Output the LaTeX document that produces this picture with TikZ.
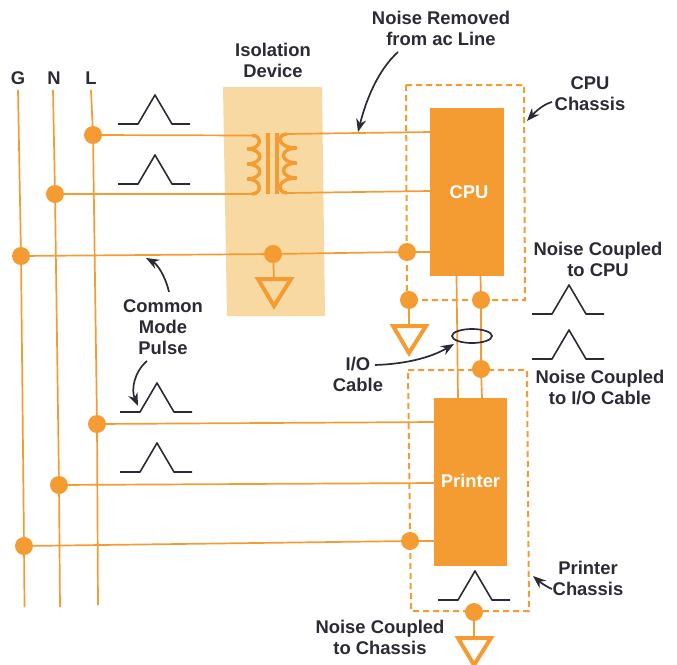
\documentclass[tikz,border=0pt]{standalone}
\usepackage{fontspec}
\setmainfont{Liberation Sans}
\usetikzlibrary{arrows.meta}
\definecolor{org}{HTML}{F49B32}
\definecolor{isoc}{HTML}{F9D9A2}
\definecolor{ink}{HTML}{2B2B35}
\tikzset{
  wire/.style={draw=org,line width=1.7pt},
  dot/.style={circle,fill=org,minimum size=18pt,inner sep=0pt},
  unit/.style={fill=org},
  chassis/.style={draw=org,line width=2pt,dash pattern=on 6pt off 4pt},
  gnd/.style={draw=org,line width=4pt,line join=miter},
  coil/.style={draw=org,line width=3.4pt},
  pulseline/.style={draw=ink,line width=1.6pt,line join=round},
  lbl/.style={text=ink,align=center,font=\fontsize{18.4}{21}\selectfont\bfseries,inner sep=0pt},
  callout/.style={draw=ink,line width=1.7pt,-{Stealth[length=13pt,width=10pt]}},
  pulse/.pic={\draw[pulseline] (0,0) -- (20,0) -- (37,-29) -- (54,0) -- (72,0);}
}
\begin{document}
\begin{tikzpicture}[x=1pt,y=-1pt]
\useasboundingbox (0,0) rectangle (677,664);
\clip (0,0) rectangle (677,664);
% isolation device
\fill[isoc] (223,87) -- (322,87) -- (325,316) -- (227,316) -- cycle;
% chassis
\draw[chassis] (406,85) -- (524,85) -- (525,300) -- (407,300) -- cycle;
\draw[chassis] (408,370) -- (527,370) -- (529,611) -- (411,611) -- cycle;
% units
\node[unit,minimum width=74pt,minimum height=168pt,inner sep=0pt] (cpu) at (467,192) {};
\node[unit,minimum width=73pt,minimum height=168pt,inner sep=0pt] (prn) at (470.5,482) {};
\node[lbl,text=white] at (469,192) {CPU};
\node[lbl,text=white] at (470.5,481) {Printer};
% dots
\node[dot] (l1) at (93,135) {};
\node[dot] (n1) at (55,194) {};
\node[dot] (g1) at (21,256) {};
\node[dot] (gi) at (273,254) {};
\node[dot] (gc) at (407,252) {};
\node[dot] (c1) at (409,300) {};
\node[dot] (c2) at (481,300) {};
\node[dot] (c3) at (481,369) {};
\node[dot] (l2) at (97,424) {};
\node[dot] (n2) at (59,485) {};
\node[dot] (g2) at (24,546) {};
\node[dot] (gp) at (410,541) {};
\node[dot] (c4) at (474,612) {};
% rails
\coordinate (gt) at (18,90); \coordinate (gb) at (24.5,607);
\coordinate (nt) at (53,90); \coordinate (nb) at (60,607);
\coordinate (lt) at (91,90); \coordinate (lb) at (98,605);
\draw[wire] (gt) -- (g1) -- (g2) -- (gb);
\draw[wire] (nt) -- (n1) -- (n2) -- (nb);
\draw[wire] (lt) -- (l1) -- (l2) -- (lb);
% transformer
\coordinate (ta) at (252,135.5); \coordinate (tb) at (252,194);
\coordinate (tc) at (287,134); \coordinate (td) at (287,193);
\coordinate (ca) at (430,132); \coordinate (cb) at (430,191);
\draw[wire] (l1) -- (ta);
\draw[wire] (n1) -- (tb);
\draw[wire] (tc) -- (ca);
\draw[wire] (td) -- (cb);
\draw[wire] (g1) -- (gi) -- (gc) -- (cpu.west |- gc);
\draw[coil] (ta) .. controls (262,135) and (263,149) .. (247,149)
  .. controls (264,149) and (264,164) .. (247,164)
  .. controls (264,164) and (264,179) .. (247,179)
  .. controls (263,179) and (262,194) .. (tb);
\draw[coil] (tc) .. controls (277,134) and (276,148) .. (297,148)
  .. controls (279,148) and (279,163) .. (297,163)
  .. controls (279,163) and (279,178) .. (297,178)
  .. controls (276,178) and (277,193) .. (td);
\fill[org] (265.5,133) rectangle (270,194);
\fill[org] (274.5,133) rectangle (279,194);
% grounds
\coordinate (t1) at (274,279); \coordinate (t2) at (409,326); \coordinate (t3) at (474,637);
\draw[wire] (gi) -- (t1);
\draw[wire] (c1) -- (t2);
\draw[wire] (c4) -- (t3);
\draw[gnd] (258,279) -- (291,279) -- (274,306) -- cycle;
\draw[gnd] (393,326) -- (426,326) -- (409,353) -- cycle;
\draw[gnd] (458,638) -- (491,638) -- (474,665) -- cycle;
% cables
\coordinate (ct1) at (456.5,276); \coordinate (ct2) at (458,398);
\coordinate (ct3) at (480.5,276); \coordinate (ct4) at (482,398);
\draw[wire] (ct1) -- (ct2);
\draw[wire] (ct3) -- (c2) -- (c3) -- (ct4);
\coordinate (pl) at (434,422); \coordinate (pn) at (434,483); \coordinate (pg) at (434,541);
\draw[wire] (l2) -- (pl);
\draw[wire] (n2) -- (pn);
\draw[wire] (g2) -- (gp) -- (pg);
% ring
\draw[draw=ink,line width=1.7pt] (472,336) ellipse [x radius=20,y radius=7];
% pulses
\pic at (118,124) {pulse};
\pic at (118,184) {pulse};
\pic at (120,412) {pulse};
\pic at (120,472) {pulse};
\pic at (532,314) {pulse};
\pic at (532,359) {pulse};
\pic at (438,600) {pulse};
% labels
\node[lbl] at (18,78) {G};
\node[lbl] at (54,78) {N};
\node[lbl] at (91,78) {L};
\node[lbl] (iso) at (273,60) {Isolation\\Device};
\node[lbl] (nr) at (441,28) {Noise Removed\\from ac Line};
\node[lbl] (cc) at (590,93.5) {CPU\\Chassis};
\node[lbl] (nc) at (598,259.5) {Noise Coupled\\to CPU};
\node[lbl] (cm) at (163,327.5) {Common\\Mode\\Pulse};
\node[lbl] (io) at (358,374.5) {I/O\\Cable};
\node[lbl] (ni) at (600,387.5) {Noise Coupled\\to I/O Cable};
\node[lbl] (pc) at (588,578.5) {Printer\\Chassis};
\node[lbl] (nh) at (380,637.5) {Noise Coupled\\to Chassis};
% arrows
\coordinate (a1) at (358,132); \coordinate (a1s) at (398,52);
\coordinate (a2) at (527,121); \coordinate (a2s) at (552,102);
\coordinate (a3) at (146,258); \coordinate (a3s) at (169,292);
\coordinate (a4) at (138,406); \coordinate (a4s) at (147,361);
\coordinate (a5) at (454,344); \coordinate (a5s) at (375,365);
\coordinate (a6) at (533,576); \coordinate (a6s) at (552,589);
\draw[callout] (a1s) .. controls (378,70) and (366,100) .. (a1);
\draw[callout] (a2s) .. controls (544,104) and (536,111) .. (a2);
\draw[callout] (a3s) .. controls (165,275) and (157,264) .. (a3);
\draw[callout] (a4s) .. controls (134,372) and (131,390) .. (a4);
\draw[callout] (a5s) .. controls (405,364) and (430,358) .. (a5);
\draw[callout] (a6s) .. controls (545,586) and (540,582) .. (a6);
\end{tikzpicture}
\end{document}
